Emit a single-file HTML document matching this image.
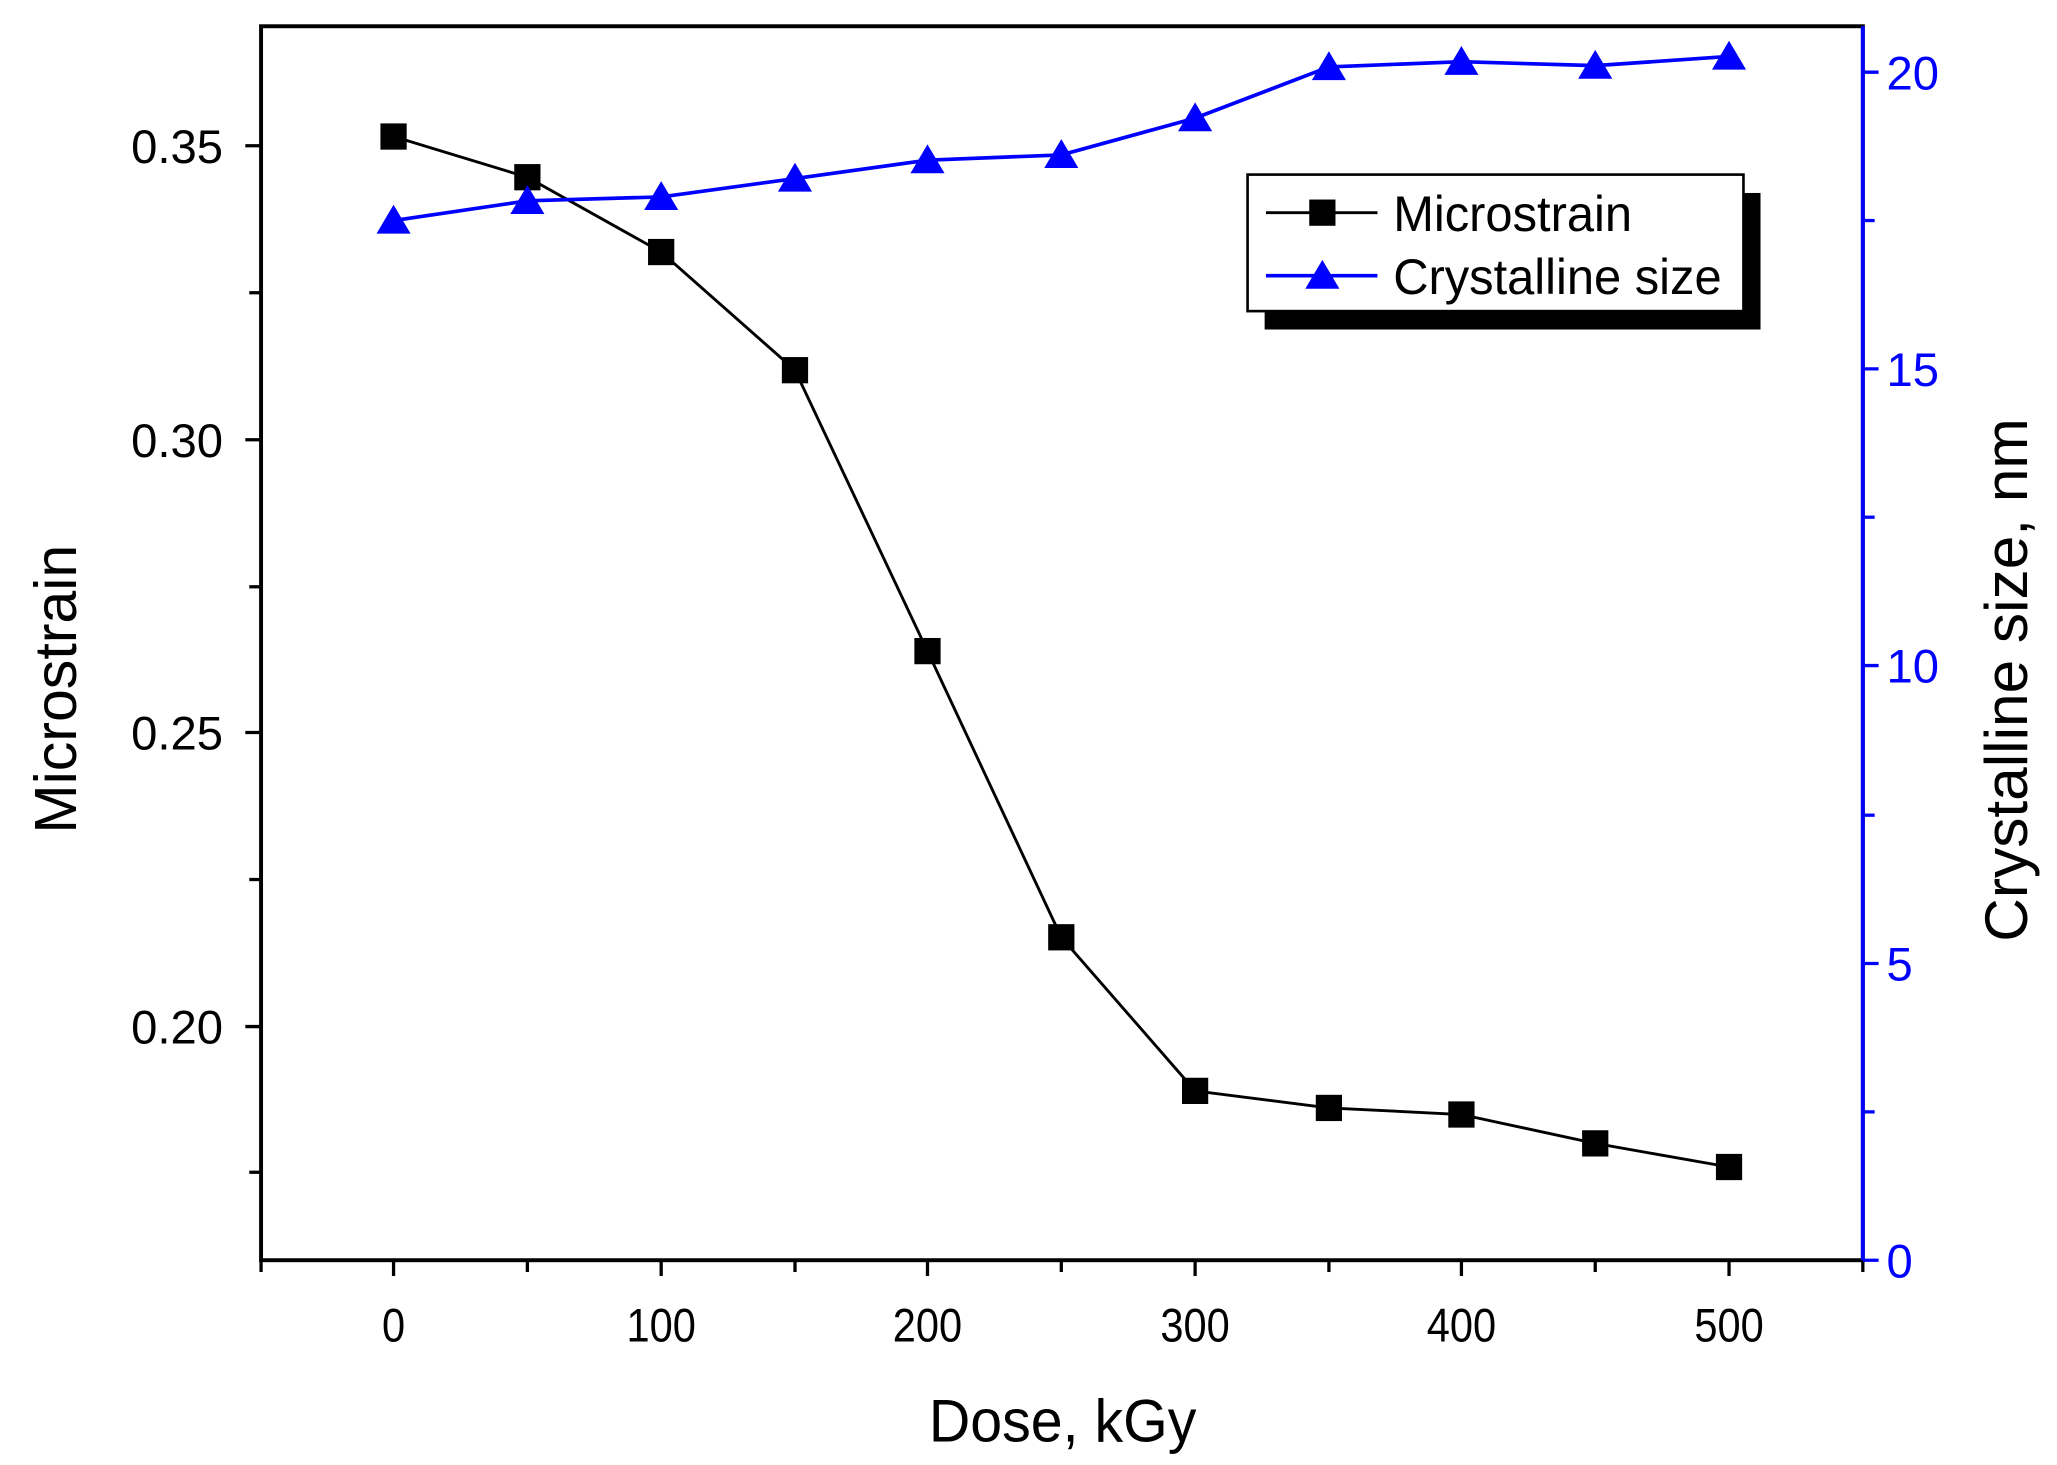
<!DOCTYPE html>
<html><head><style>html,body{margin:0;padding:0;background:#fff}svg{display:block}</style></head>
<body>
<svg width="2057" height="1465" viewBox="0 0 1568 1116" preserveAspectRatio="none" xmlns="http://www.w3.org/2000/svg" font-family="Liberation Sans, sans-serif">
<rect width="1568" height="1116" fill="#fff"/>
<rect x="199" y="20" width="1221" height="940" fill="none" stroke="#000" stroke-width="3"/>
<line x1="1420" y1="20" x2="1420" y2="960" stroke="#00f" stroke-width="3"/>
<g stroke="#000" stroke-width="2.5">
<line x1="199" y1="960" x2="199" y2="969"/><line x1="300" y1="960" x2="300" y2="972"/><line x1="402" y1="960" x2="402" y2="969"/><line x1="504" y1="960" x2="504" y2="972"/><line x1="606" y1="960" x2="606" y2="969"/><line x1="707" y1="960" x2="707" y2="972"/><line x1="809" y1="960" x2="809" y2="969"/><line x1="911" y1="960" x2="911" y2="972"/><line x1="1013" y1="960" x2="1013" y2="969"/><line x1="1114" y1="960" x2="1114" y2="972"/><line x1="1216" y1="960" x2="1216" y2="969"/><line x1="1318" y1="960" x2="1318" y2="972"/><line x1="1420" y1="960" x2="1420" y2="969"/>
</g>
<g font-size="36" text-anchor="middle" fill="#000">
<text x="300" y="1022" transform="translate(300 0) scale(0.88 1) translate(-300 0)">0</text>
<text x="504" y="1022" transform="translate(504 0) scale(0.88 1) translate(-504 0)">100</text>
<text x="707" y="1022" transform="translate(707 0) scale(0.88 1) translate(-707 0)">200</text>
<text x="911" y="1022" transform="translate(911 0) scale(0.88 1) translate(-911 0)">300</text>
<text x="1114" y="1022" transform="translate(1114 0) scale(0.88 1) translate(-1114 0)">400</text>
<text x="1318" y="1022" transform="translate(1318 0) scale(0.88 1) translate(-1318 0)">500</text>
</g>
<text x="810" y="1098" font-size="46" text-anchor="middle" transform="translate(810 0) scale(0.95 1) translate(-810 0)">Dose, kGy</text>
<g stroke="#000" stroke-width="2.5">
<line x1="187" y1="111" x2="199" y2="111"/><line x1="190" y1="223" x2="199" y2="223"/><line x1="187" y1="335" x2="199" y2="335"/><line x1="190" y1="447" x2="199" y2="447"/><line x1="187" y1="558" x2="199" y2="558"/><line x1="190" y1="670" x2="199" y2="670"/><line x1="187" y1="782" x2="199" y2="782"/><line x1="190" y1="893" x2="199" y2="893"/>
</g>
<g font-size="36" text-anchor="end">
<text x="170" y="124">0.35</text><text x="170" y="348">0.30</text><text x="170" y="571">0.25</text><text x="170" y="795">0.20</text>
</g>
<text transform="translate(58 525) rotate(-90)" font-size="45" text-anchor="middle">Microstrain</text>
<g stroke="#00f" stroke-width="2.5">
<line x1="1420" y1="960" x2="1432" y2="960"/><line x1="1420" y1="847" x2="1429" y2="847"/><line x1="1420" y1="734" x2="1432" y2="734"/><line x1="1420" y1="621" x2="1429" y2="621"/><line x1="1420" y1="507" x2="1432" y2="507"/><line x1="1420" y1="394" x2="1429" y2="394"/><line x1="1420" y1="281" x2="1432" y2="281"/><line x1="1420" y1="168" x2="1429" y2="168"/><line x1="1420" y1="55" x2="1432" y2="55"/>
</g>
<g font-size="36" fill="#00f">
<text x="1438" y="973">0</text><text x="1438" y="747">5</text><text x="1438" y="520">10</text><text x="1438" y="294">15</text><text x="1438" y="68">20</text>
</g>
<text transform="translate(1545 518) rotate(-90)" font-size="46" text-anchor="middle">Crystalline size, nm</text>
<polyline fill="none" stroke="#000" stroke-width="2.2" points="300,104 402,135 504,192 606,282 707,496 809,714 911,831 1013,844 1114,849 1216,871 1318,889"/>
<g fill="#000">
<rect x="290" y="94" width="20" height="20"/><rect x="392" y="125" width="20" height="20"/><rect x="494" y="182" width="20" height="20"/><rect x="596" y="272" width="20" height="20"/><rect x="697" y="486" width="20" height="20"/><rect x="799" y="704" width="20" height="20"/><rect x="901" y="821" width="20" height="20"/><rect x="1003" y="834" width="20" height="20"/><rect x="1104" y="839" width="20" height="20"/><rect x="1206" y="861" width="20" height="20"/><rect x="1308" y="879" width="20" height="20"/>
</g>
<polyline fill="none" stroke="#00f" stroke-width="2.8" points="300,168 402,153 504,150 606,136 707,122 809,118 911,90 1013,51 1114,47 1216,50 1318,43"/>
<g fill="#00f">
<path d="M300 156 l13 22 h-26z"/><path d="M402 141 l13 22 h-26z"/><path d="M504 138 l13 22 h-26z"/><path d="M606 124 l13 22 h-26z"/><path d="M707 110 l13 22 h-26z"/><path d="M809 106 l13 22 h-26z"/><path d="M911 78 l13 22 h-26z"/><path d="M1013 39 l13 22 h-26z"/><path d="M1114 35 l13 22 h-26z"/><path d="M1216 38 l13 22 h-26z"/><path d="M1318 31 l13 22 h-26z"/>
</g>
<rect x="964" y="147" width="378" height="104" fill="#000"/>
<rect x="951" y="133" width="378" height="104" fill="#fff" stroke="#000" stroke-width="2"/>
<line x1="965" y1="162" x2="1050" y2="162" stroke="#000" stroke-width="2.2"/>
<rect x="998" y="152" width="20" height="20" fill="#000"/>
<line x1="965" y1="210" x2="1050" y2="210" stroke="#00f" stroke-width="2.8"/>
<path d="M1008 198 l13 22 h-26z" fill="#00f"/>
<text x="1062" y="176" font-size="38" transform="translate(1062 0) scale(0.98 1) translate(-1062 0)">Microstrain</text>
<text x="1062" y="224" font-size="38" transform="translate(1062 0) scale(0.98 1) translate(-1062 0)">Crystalline size</text>
</svg>
</body></html>
